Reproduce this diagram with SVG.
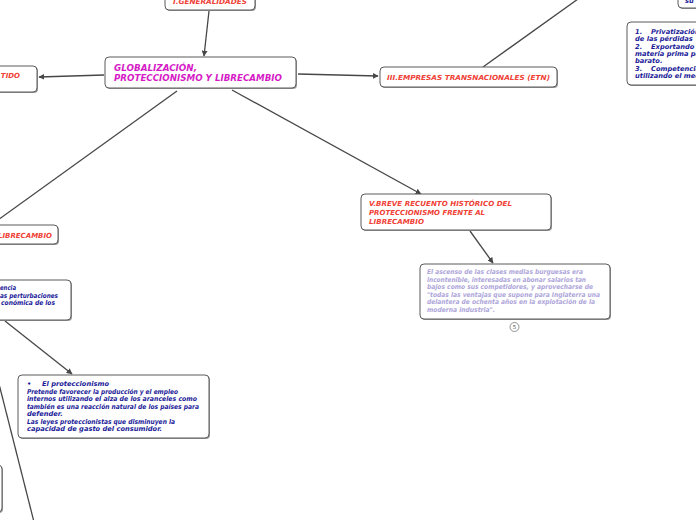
<svg xmlns="http://www.w3.org/2000/svg" width="696" height="520" viewBox="0 0 696 520">
<style>
.box{fill:#fff;stroke:#5a5a5a;stroke-width:1}
.sh{fill:#9a9a9a}
.t{font-family:"DejaVu Sans",Verdana,sans-serif;font-weight:bold;font-style:italic}
.red{fill:#ef4136;font-size:7px}
.mag{fill:#d61bc6;font-size:8.6px}
.blue{fill:#1c1c99;font-size:6.7px}
.lav{fill:#aea6da;font-size:6.7px}
.c{stroke:#474747;stroke-width:1.3;fill:none}
</style>
<defs>
<marker id="ah" viewBox="0 0 10 10" refX="9" refY="5" markerWidth="6" markerHeight="6" orient="auto" markerUnits="userSpaceOnUse">
<path d="M0,0 L10,5 L0,10 z" fill="#474747"/>
</marker>
</defs>
<rect width="696" height="520" fill="#fff"/>
<g id="connectors">
<line class="c" x1="209" y1="11" x2="204" y2="56" marker-end="url(#ah)"/>
<line class="c" x1="104" y1="75" x2="39" y2="77" marker-end="url(#ah)"/>
<line class="c" x1="298" y1="74" x2="378" y2="76" marker-end="url(#ah)"/>
<line class="c" x1="483" y1="67" x2="578" y2="-1"/>
<line class="c" x1="177" y1="91" x2="-2" y2="220"/>
<line class="c" x1="232" y1="90" x2="421" y2="194" marker-end="url(#ah)"/>
<line class="c" x1="470" y1="231" x2="493" y2="263" marker-end="url(#ah)"/>
<line class="c" x1="5" y1="321" x2="72" y2="374" marker-end="url(#ah)"/>
<line class="c" x1="-2" y1="380" x2="34" y2="522"/>
</g>
<g id="n-generalidades">
<rect class="sh" x="166" y="-9" width="90" height="20" rx="4"/>
<rect class="box" x="165" y="-10" width="90" height="20" rx="4"/>
<text class="t red" x="173" y="4" textLength="74" lengthAdjust="spacingAndGlyphs">I.GENERALIDADES</text>
</g>
<g id="n-main">
<rect class="sh" x="106" y="58" width="191" height="31" rx="4"/>
<rect class="box" x="105" y="57" width="191" height="31" rx="4"/>
<text class="t mag" x="114" y="71" textLength="83" lengthAdjust="spacingAndGlyphs">GLOBALIZACIÓN,</text>
<text class="t mag" x="114" y="81" textLength="168" lengthAdjust="spacingAndGlyphs">PROTECCIONISMO Y LIBRECAMBIO</text>
</g>
<g id="n-partido">
<rect class="sh" x="-19" y="67" width="57" height="26" rx="4"/>
<rect class="box" x="-20" y="66" width="57" height="26" rx="4"/>
<text class="t red" x="20" y="78" text-anchor="end">TIDO</text>
</g>
<g id="n-etn">
<rect class="sh" x="381" y="68" width="177" height="20" rx="4"/>
<rect class="box" x="380" y="67" width="177" height="20" rx="4"/>
<text class="t red" x="387" y="80" textLength="163" lengthAdjust="spacingAndGlyphs">III.EMPRESAS TRANSNACIONALES (ETN)</text>
</g>
<g id="n-su">
<rect class="sh" x="679" y="-9" width="30" height="18" rx="4"/>
<rect class="box" x="678" y="-10" width="30" height="18" rx="4"/>
<text class="t blue" x="685" y="3">su</text>
</g>
<g id="n-privatizacion">
<rect class="sh" x="628" y="23" width="80" height="63" rx="4"/>
<rect class="box" x="627" y="22" width="80" height="63" rx="4"/>
<text class="t blue" x="635" y="34">1.<tspan x="651">Privatización</tspan></text>
<text class="t blue" x="635" y="41">de las pérdidas</text>
<text class="t blue" x="635" y="49">2.<tspan x="651">Exportando c</tspan></text>
<text class="t blue" x="635" y="56">materia prima par</text>
<text class="t blue" x="635" y="63">barato.</text>
<text class="t blue" x="635" y="71">3.<tspan x="651">Competencia</tspan></text>
<text class="t blue" x="635" y="78">utilizando el meca</text>
</g>
<g id="n-breve">
<rect class="sh" x="362" y="195" width="190" height="36" rx="4"/>
<rect class="box" x="361" y="194" width="190" height="36" rx="4"/>
<text class="t red" x="369" y="206" textLength="143" lengthAdjust="spacingAndGlyphs">V.BREVE RECUENTO HISTÓRICO DEL</text>
<text class="t red" x="369" y="215" textLength="116" lengthAdjust="spacingAndGlyphs">PROTECCIONISMO FRENTE AL</text>
<text class="t red" x="369" y="224" textLength="55" lengthAdjust="spacingAndGlyphs">LIBRECAMBIO</text>
</g>
<g id="n-ascenso">
<rect class="sh" x="421" y="265" width="190" height="55" rx="4"/>
<rect class="box" x="420" y="264" width="190" height="55" rx="4"/>
<text class="t lav" x="427" y="274" textLength="156" lengthAdjust="spacingAndGlyphs">El ascenso de las clases medias burguesas era</text>
<text class="t lav" x="427" y="281.5" textLength="159" lengthAdjust="spacingAndGlyphs">incontenible, interesadas en abonar salarios tan</text>
<text class="t lav" x="427" y="289" textLength="166" lengthAdjust="spacingAndGlyphs">bajos como sus competidores, y aprovecharse de</text>
<text class="t lav" x="427" y="296.5" textLength="173" lengthAdjust="spacingAndGlyphs">"todas las ventajas que supone para Inglaterra una</text>
<text class="t lav" x="427" y="304" textLength="168" lengthAdjust="spacingAndGlyphs">delantera de ochenta años en la explotación de la</text>
<text class="t lav" x="427" y="311.5" textLength="68" lengthAdjust="spacingAndGlyphs">moderna industria".</text>
<circle cx="514.5" cy="327" r="4.5" fill="#fff" stroke="#777" stroke-width="0.8"/>
<text x="514.5" y="329.3" text-anchor="middle" font-family="DejaVu Sans, sans-serif" font-size="5.5" fill="#555">5</text>
</g>
<g id="n-librecambio">
<rect class="sh" x="-29" y="226" width="88" height="19" rx="4"/>
<rect class="box" x="-30" y="225" width="88" height="19" rx="4"/>
<text class="t red" x="52" y="238" text-anchor="end">LIBRECAMBIO</text>
</g>
<g id="n-competencia">
<rect class="sh" x="-29" y="281" width="101" height="40" rx="4"/>
<rect class="box" x="-30" y="280" width="101" height="40" rx="4"/>
<text class="t blue" x="0" y="290" textLength="16" lengthAdjust="spacingAndGlyphs">encia</text>
<text class="t blue" x="0" y="298" textLength="58" lengthAdjust="spacingAndGlyphs">as perturbaciones</text>
<text class="t blue" x="1" y="305" textLength="54" lengthAdjust="spacingAndGlyphs">conómica de los</text>
</g>
<g id="n-proteccionismo">
<rect class="sh" x="19" y="376" width="191" height="63" rx="4"/>
<rect class="box" x="18" y="375" width="191" height="63" rx="4"/>
<text class="t blue" x="27" y="386">•<tspan x="42">El proteccionismo</tspan></text>
<text class="t blue" x="27" y="393.5" textLength="151" lengthAdjust="spacingAndGlyphs">Pretende favorecer la producción y el empleo</text>
<text class="t blue" x="27" y="401" textLength="170" lengthAdjust="spacingAndGlyphs">internos utilizando el alza de los aranceles como</text>
<text class="t blue" x="27" y="408.5" textLength="172" lengthAdjust="spacingAndGlyphs">también es una reacción natural de los países para</text>
<text class="t blue" x="27" y="416">defender.</text>
<text class="t blue" x="27" y="423.5" textLength="148" lengthAdjust="spacingAndGlyphs">Las leyes proteccionistas que disminuyen la</text>
<text class="t blue" x="27" y="431">capacidad de gasto del consumidor.</text>
</g>
<g id="n-bottomleft">
<rect class="sh" x="-29" y="466" width="32" height="47" rx="4"/>
<rect class="box" x="-30" y="465" width="32" height="47" rx="4"/>
</g>
</svg>
